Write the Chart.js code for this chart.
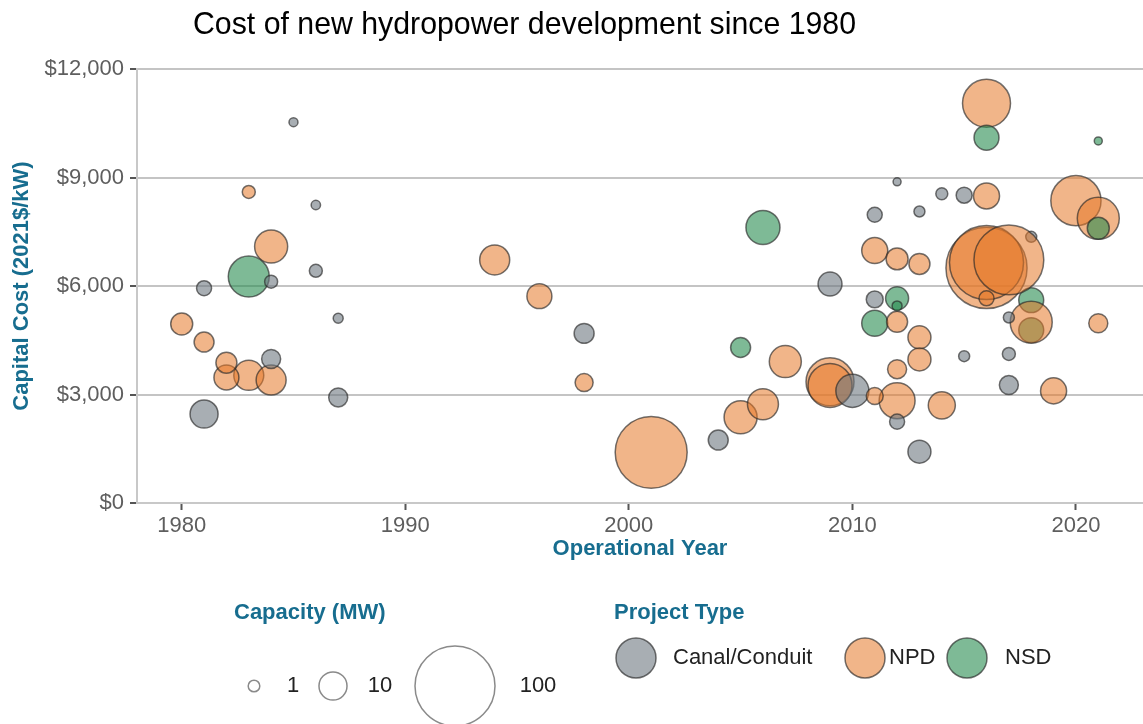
<!DOCTYPE html>
<html>
<head>
<meta charset="utf-8">
<title>Hydropower cost</title>
<script src="https://cdn.jsdelivr.net/npm/chart.js@4.4.1/dist/chart.umd.min.js"></script>
<style>
  html, body { margin: 0; padding: 0; background: #fff; }
  #wrap { position: relative; width: 1143px; height: 724px; }
</style>
</head>
<body>
<div id="wrap"><canvas id="chart" width="1143" height="724"></canvas></div>
<script>
// ===============================
// DATA (draw order: first drawn at the bottom)
// ===============================
const years = [2018, 2018, 2018, 2016, 2016, 2017, 2001, 2020, 2016, 2009, 2009,
  2021, 2018, 1983, 2012, 2006, 1984, 2005, 2010, 2007, 2006, 1983, 1984, 1994,
  1981, 2014, 2011, 2011, 2016, 2019, 1982, 1996, 2016, 2009, 2012, 2013, 2013,
  2013, 1980, 2012, 2021, 1982, 2013, 2012, 1981, 1998, 2005, 2004, 1984, 1987,
  2012, 2017, 2021, 1998, 2011, 2011, 2015, 1981, 2011, 2016, 2012, 1983, 1984,
  1986, 2017, 2014, 2013, 2015, 2017, 1987, 2012, 1986, 1985, 2012, 2021];

const costs = [7360, 5610, 4780, 6500, 6650, 6720, 1400, 8360, 11050, 3350, 3250,
  7870, 5000, 6260, 2830, 7620, 7090, 2370, 3100, 3910, 2730, 3530, 3400, 6720,
  2460, 2700, 6980, 4970, 8490, 3100, 3470, 5720, 10100, 6055, 5660, 4580, 3970,
  1420, 4950, 6750, 7600, 3880, 6610, 5010, 4450, 4690, 4300, 1740, 3980, 2920,
  3700, 3260, 4970, 3330, 2960, 5630, 8510, 5940, 7970, 5660, 2250, 8600, 6120,
  6420, 4120, 8550, 8060, 4060, 5130, 5110, 5450, 8240, 10530, 8880, 10010];

const capacityMW = [0.85, 7.6, 7.6, 103, 85, 75, 80, 37, 33.5, 33.5, 27.7,
  25, 25, 23.7, 17.7, 15.6, 14.6, 14.6, 14.6, 13.6, 12.6, 11.7, 11.7, 11.7,
  10, 9.2, 8.4, 8.4, 8.4, 8.4, 7.6, 7.6, 7.6, 6.9, 6.25, 6.25, 6.25,
  6.25, 5.6, 5.6, 5.6, 5.0, 5.0, 5.0, 4.4, 4.4, 4.4, 4.4, 3.9, 3.9,
  3.9, 3.9, 3.9, 3.4, 2.9, 2.9, 2.5, 2.1, 2.1, 2.1, 2.1, 1.4, 1.4,
  1.4, 1.4, 1.1, 0.85, 0.85, 0.85, 0.62, 0.62, 0.5, 0.43, 0.28, 0.28];

const projectType = ["Canal/Conduit", "NSD", "NSD", "NPD", "NPD", "NPD", "NPD", "NPD", "NPD", "NPD", "NPD",
  "NPD", "NPD", "NSD", "NPD", "NSD", "NPD", "NPD", "Canal/Conduit", "NPD", "NPD", "NPD", "NPD", "NPD",
  "Canal/Conduit", "NPD", "NPD", "NSD", "NPD", "NPD", "NPD", "NPD", "NSD", "Canal/Conduit", "NSD", "NPD", "NPD",
  "Canal/Conduit", "NPD", "NPD", "NSD", "NPD", "NPD", "NPD", "NPD", "Canal/Conduit", "NSD", "Canal/Conduit", "Canal/Conduit", "Canal/Conduit",
  "NPD", "Canal/Conduit", "NPD", "NPD", "NPD", "Canal/Conduit", "Canal/Conduit", "Canal/Conduit", "Canal/Conduit", "NPD", "Canal/Conduit", "NPD", "Canal/Conduit",
  "Canal/Conduit", "Canal/Conduit", "Canal/Conduit", "Canal/Conduit", "Canal/Conduit", "Canal/Conduit", "Canal/Conduit", "NSD", "Canal/Conduit", "Canal/Conduit", "Canal/Conduit", "NSD"];

const typeNames = ["Canal/Conduit", "NPD", "NSD"];
const legendSizes = [1, 10, 100];
const xTicks = [1980, 1990, 2000, 2010, 2020];
const yTicks = [0, 3000, 6000, 9000, 12000];
const chartTitle = "Cost of new hydropower development since 1980";

// ===============================
// STYLE
// ===============================
const typeColors = {
  "Canal/Conduit": "rgba(110,120,128,0.6)",
  "NPD": "rgba(230,120,40,0.55)",
  "NSD": "rgba(40,140,80,0.6)"
};
const edgeColor = "rgba(40,40,40,0.65)";
const teal = "#176d8f";
const baseFont = '"Liberation Sans", Arial, sans-serif';

// bubble radius in px for a capacity in MW
const sizeOf = mw => 2 + 3.8 * Math.sqrt(mw);

const points = years.map((y, i) => ({ x: y, y: costs[i], r: sizeOf(capacityMW[i]) }));

// ===============================
// TITLE + LEGENDS
// ===============================
const extrasPlugin = {
  id: "extras",
  afterDraw(chart) {
    const ctx = chart.ctx;
    ctx.save();
    ctx.textBaseline = "middle";
    ctx.textAlign = "left";

    // title, squeezed a little to get a condensed look
    ctx.save();
    ctx.fillStyle = "#000";
    ctx.font = "32px " + baseFont;
    const tw = ctx.measureText(chartTitle).width;
    ctx.translate(193, 25);
    ctx.scale(663 / tw, 1);
    ctx.fillText(chartTitle, 0, 0);
    ctx.restore();

    // size legend
    ctx.fillStyle = teal;
    ctx.font = "bold 22px " + baseFont;
    ctx.fillText("Capacity (MW)", 234, 613);

    const sizeX = [254, 333, 455];
    const sizeLabelX = [293, 380, 538];
    legendSizes.forEach((mw, i) => {
      ctx.beginPath();
      ctx.arc(sizeX[i], 686, sizeOf(mw), 0, Math.PI * 2);
      ctx.fillStyle = "#fff";
      ctx.fill();
      ctx.lineWidth = 1.5;
      ctx.strokeStyle = "#8a8a8a";
      ctx.stroke();
      ctx.fillStyle = "#222";
      ctx.font = "22px " + baseFont;
      ctx.textAlign = "center";
      ctx.fillText(String(mw), sizeLabelX[i], 686);
    });

    // project type legend
    ctx.textAlign = "left";
    ctx.fillStyle = teal;
    ctx.font = "bold 22px " + baseFont;
    ctx.fillText("Project Type", 614, 613);

    const typeX = [636, 865, 967];
    const typeLabelX = [673, 889, 1005];
    typeNames.forEach((name, i) => {
      ctx.beginPath();
      ctx.arc(typeX[i], 658, 20, 0, Math.PI * 2);
      ctx.fillStyle = "#fff";
      ctx.fill();
      ctx.fillStyle = typeColors[name];
      ctx.fill();
      ctx.lineWidth = 1.5;
      ctx.strokeStyle = edgeColor;
      ctx.stroke();
      ctx.fillStyle = "#222";
      ctx.font = "22px " + baseFont;
      ctx.fillText(name, typeLabelX[i], 658);
    });

    ctx.restore();
  }
};

// ===============================
// CHART
// ===============================
new Chart(document.getElementById("chart"), {
  type: "bubble",
  data: {
    datasets: [{
      label: "Projects",
      data: points,
      backgroundColor: projectType.map(t => typeColors[t]),
      borderColor: edgeColor,
      borderWidth: 1.5,
      hoverBorderWidth: 1.5
    }]
  },
  options: {
    responsive: false,
    animation: false,
    events: [],
    layout: { autoPadding: false, padding: { top: 69, left: 0, right: 0, bottom: 0 } },
    plugins: {
      legend: { display: false },
      tooltip: { enabled: false },
      title: { display: false }
    },
    scales: {
      x: {
        type: "linear",
        min: 1978,
        max: 2023,
        afterBuildTicks: s => { s.ticks = xTicks.map(v => ({ value: v })); },
        afterFit: s => { s.height = 221; s.paddingLeft = 0; s.paddingRight = 0; },
        grid: {
          drawOnChartArea: false,
          tickColor: "#555",
          tickLength: 7,
          tickWidth: 2
        },
        border: { color: "#c8c8c8", width: 2 },
        ticks: {
          color: "#5e5e5e",
          padding: 3,
          font: { family: baseFont, size: 22 },
          callback: v => String(v)
        },
        title: {
          display: true,
          text: "Operational Year",
          color: teal,
          font: { family: baseFont, size: 22, weight: "bold" },
          padding: { top: 0, bottom: 162 }
        }
      },
      y: {
        min: 0,
        max: 12000,
        afterBuildTicks: s => { s.ticks = yTicks.map(v => ({ value: v })); },
        afterFit: s => { s.width = 137; s.paddingTop = 0; s.paddingBottom = 0; },
        grid: {
          color: "#c4c4c4",
          lineWidth: 2,
          tickColor: "#555",
          tickLength: 7,
          tickWidth: 2
        },
        border: { color: "#c8c8c8", width: 2 },
        ticks: {
          color: "#5e5e5e",
          padding: 6,
          font: { family: baseFont, size: 22 },
          callback: v => "$" + v.toLocaleString("en-US")
        },
        title: {
          display: true,
          text: "Capital Cost (2021$/kW)",
          color: teal,
          font: { family: baseFont, size: 22, weight: "bold" },
          padding: { top: 9, bottom: 0 }
        }
      }
    }
  },
  plugins: [extrasPlugin]
});
</script>
</body>
</html>
